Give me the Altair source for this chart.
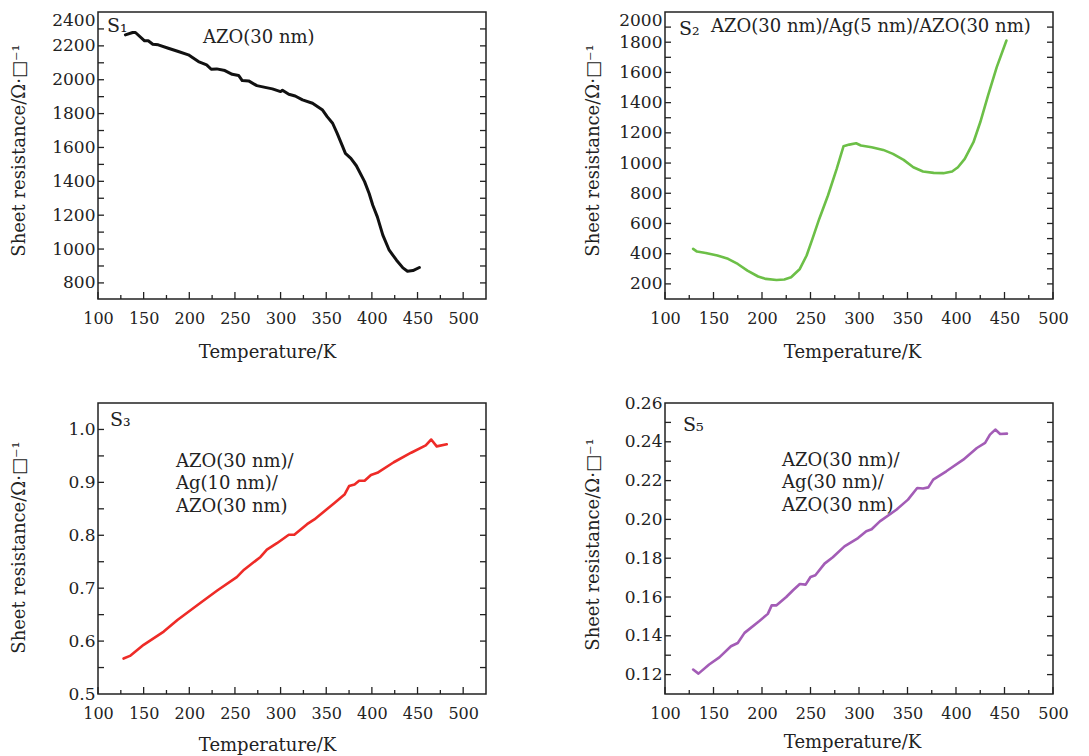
import altair as alt
import pandas as pd

FONT = "DejaVu Serif"
INK = "#222222"

# ---------------- data ----------------
S1_T = [130, 138, 141, 151, 155, 160, 166, 177, 188, 199, 210, 219, 224, 230, 239, 247, 254, 258, 265, 274,
        283, 291, 300, 302, 309, 316, 324, 335, 346, 351, 357, 362, 368, 371, 377, 383, 392, 397, 401, 406,
        412, 419, 427, 434, 439, 445, 452]
S1_R = [2265, 2279, 2279, 2230, 2230, 2210, 2206, 2186, 2167, 2147, 2107, 2088, 2062, 2064, 2054, 2032, 2025,
        1995, 1993, 1965, 1955, 1946, 1930, 1938, 1914, 1904, 1881, 1861, 1821, 1782, 1743, 1683, 1605, 1565,
        1536, 1492, 1398, 1328, 1259, 1190, 1082, 993, 934, 889, 869, 873, 891]

S2_T = [129, 133, 142, 154, 165, 175, 185, 196, 204, 215, 223, 230, 239, 246, 252, 259, 268, 277, 284, 290,
        297, 302, 313, 325, 335, 346, 356, 366, 377, 387, 396, 402, 409, 418, 425, 433, 442, 452]
S2_R = [432, 414, 405, 388, 366, 332, 288, 249, 233, 226, 229, 244, 299, 388, 498, 630, 785, 961, 1111, 1122,
        1131, 1116, 1105, 1087, 1061, 1021, 972, 944, 935, 933, 944, 972, 1028, 1138, 1270, 1447, 1635, 1811]

S3_T = [128, 135, 150, 172, 187, 212, 231, 252, 260, 278, 285, 296, 309, 315, 329, 337, 359, 370, 375, 381,
        386, 392, 399, 406, 424, 443, 459, 465, 471, 482]
S3_R = [0.567, 0.572, 0.593, 0.618, 0.640, 0.672, 0.696, 0.721, 0.735, 0.759, 0.773, 0.785, 0.801, 0.801,
        0.821, 0.830, 0.861, 0.877, 0.893, 0.896, 0.903, 0.903, 0.914, 0.918, 0.938, 0.956, 0.970, 0.981,
        0.968, 0.972]

S5_T = [129, 134.5, 145.5, 156, 168, 175, 182, 197, 206, 210, 215, 225, 232, 239, 245, 250, 255, 264.5, 273,
        285, 299, 307.5, 313, 321.5, 338.5, 350.5, 360, 366, 371.5, 376.5, 390, 407.5, 421.5, 430, 435, 440.5,
        445.5, 452.5]
S5_R = [0.1226, 0.1205, 0.1252, 0.1289, 0.1346, 0.1363, 0.1415, 0.1475, 0.1513, 0.1557, 0.1557, 0.1600,
        0.1635, 0.1667, 0.1664, 0.1703, 0.1712, 0.1772, 0.1805, 0.1861, 0.1904, 0.1939, 0.1949, 0.1990,
        0.2050, 0.2102, 0.2162, 0.2159, 0.2165, 0.2205, 0.2248, 0.2308, 0.2368, 0.2394, 0.2437, 0.2463,
        0.2440, 0.2442]

X_MAJOR = [100, 150, 200, 250, 300, 350, 400, 450, 500]
X_MINOR = [125, 175, 225, 275, 325, 375, 425, 475]

S1_YLAB = [800, 1000, 1200, 1400, 1600, 1800, 2000, 2200, 2400]
S1_YTICK = [800, 900, 1000, 1100, 1200, 1300, 1400, 1500, 1600, 1700, 1800, 1900, 2000, 2100, 2200, 2300]
S2_YLAB = [200, 400, 600, 800, 1000, 1200, 1400, 1600, 1800, 2000]
S2_YTICK = [200, 300, 400, 500, 600, 700, 800, 900, 1000, 1100, 1200, 1300, 1400, 1500, 1600, 1700, 1800, 1900]
S3_YLAB = [0.5, 0.6, 0.7, 0.8, 0.9, 1.0]
S3_YTICK = [0.55, 0.6, 0.65, 0.7, 0.75, 0.8, 0.85, 0.9, 0.95, 1.0]
S5_YLAB = [0.12, 0.14, 0.16, 0.18, 0.20, 0.22, 0.24, 0.26]
S5_YTICK = [0.12, 0.13, 0.14, 0.15, 0.16, 0.17, 0.18, 0.19, 0.20, 0.21, 0.22, 0.23, 0.24, 0.25]

X_TITLE = "Temperature/K"
Y_TITLE = "Sheet resistance/Ω·□⁻¹"

W = 388
H_TOP = 287
H_BOT = 291


def panel(T, R, color, lw, xdom, ydom, ylab, ytick, fmt, H, xt, yt, flush, tags, notes):
    xs = alt.Scale(domain=xdom, nice=False, zero=False)
    ys = alt.Scale(domain=ydom, nice=False, zero=False)
    x_enc = alt.X("T:Q", scale=xs, axis=alt.Axis(
        values=X_MAJOR, format="d", title=X_TITLE, titleX=xt[0], titleY=xt[1],
        titleBaseline="middle", labelPadding=11, labelOverlap=False, labelFlush=False))
    y_enc = alt.Y("R:Q", scale=ys, axis=alt.Axis(
        values=ylab, format=fmt, title=Y_TITLE, titleX=yt[0], titleY=yt[1],
        titleBaseline="middle", titleAngle=270, labelPadding=3, labelFlush=flush,
        labelOverlap=False, labelFontSize=17))

    line = alt.Chart(pd.DataFrame({"T": T, "R": R})).mark_line(
        color=color, strokeWidth=lw, strokeJoin="round", strokeCap="round"
    ).encode(x=x_enc, y=y_enc)

    xmaj = alt.Chart(pd.DataFrame({"T": X_MAJOR})).mark_rule(color=INK, strokeWidth=1.3).encode(
        x=x_enc, y=alt.value(H), y2=alt.value(H - 7))
    xmin = alt.Chart(pd.DataFrame({"T": X_MINOR})).mark_rule(color=INK, strokeWidth=1.3).encode(
        x=x_enc, y=alt.value(H), y2=alt.value(H - 4))
    yl = alt.Chart(pd.DataFrame({"R": ytick})).mark_rule(color=INK, strokeWidth=1.3).encode(
        y=y_enc, x=alt.value(0), x2=alt.value(6))
    yr = alt.Chart(pd.DataFrame({"R": ytick})).mark_rule(color=INK, strokeWidth=1.3).encode(
        y=y_enc, x=alt.value(W), x2=alt.value(W - 6))

    layers = [xmaj, xmin, yl, yr, line]
    for (txt, px, py, fs) in tags + notes:
        layers.append(
            alt.Chart(pd.DataFrame({"label": [txt]})).mark_text(
                align="left", baseline="middle", font=FONT, fontSize=fs, color=INK,
                lineBreak="\n", lineHeight=22.5
            ).encode(x=alt.value(px), y=alt.value(py), text="label:N")
        )
    return alt.layer(*layers).properties(width=W, height=H)


p1 = panel(S1_T, S1_R, "#111111", 3.0, [100, 525], [705, 2400], S1_YLAB, S1_YTICK, "d", H_TOP,
           (169, 53), (-79, 138), True,
           [("S₁", 9, 14, 19)], [("AZO(30 nm)", 105, 26, 18)])
p2 = panel(S2_T, S2_R, "#6cbf47", 2.6, [100, 500], [100, 2000], S2_YLAB, S2_YTICK, "d", H_TOP,
           (187, 53), (-72, 138), True,
           [("S₂", 14, 17, 19)], [("AZO(30 nm)/Ag(5 nm)/AZO(30 nm)", 46, 15, 18)])
p3 = panel(S3_T, S3_R, "#ee2b27", 2.6, [100, 525], [0.5, 1.05], S3_YLAB, S3_YTICK, ".1f", H_BOT,
           (169, 51), (-79, 144), False,
           [("S₃", 12, 17, 19)], [("AZO(30 nm)/\nAg(10 nm)/\nAZO(30 nm)", 78, 58.5, 18)])
p4 = panel(S5_T, S5_R, "#a35cb6", 2.6, [100, 500], [0.11, 0.26], S5_YLAB, S5_YTICK, ".2f", H_BOT,
           (187, 48), (-72, 141), False,
           [("S₅", 18, 22, 19)], [("AZO(30 nm)/\nAg(30 nm)/\nAZO(30 nm)", 117, 57.5, 18)])

chart = alt.concat(p1, p2, p3, p4, columns=2, bounds="flush").properties(
    spacing={"row": 104, "column": 179},
    padding={"left": 1, "top": 2, "right": 4, "bottom": 0}
).configure(font=FONT).configure_view(
    stroke=INK, strokeWidth=1.5
).configure_axis(
    grid=False, domain=False, ticks=False, tickSize=0,
    labelFont=FONT, titleFont=FONT, labelColor=INK, titleColor=INK,
    labelFontSize=16, titleFontSize=18, titleFontWeight="normal"
)

chart.save("out.html", embed_options={"renderer": "svg", "actions": False})
